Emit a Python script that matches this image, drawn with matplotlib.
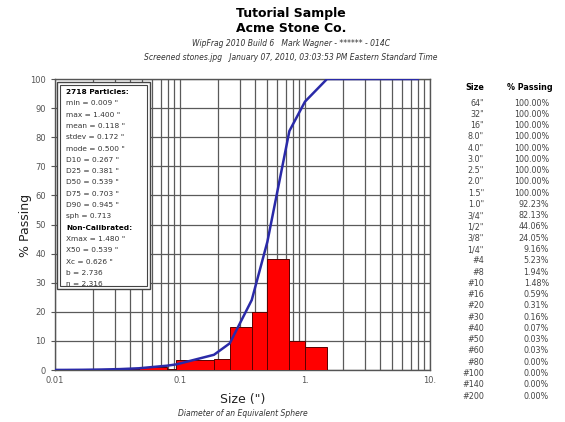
import numpy as np
import matplotlib.pyplot as plt
from matplotlib.patches import Rectangle

# sieve table (right side of chart)
sieve_labels = ['64"', '32"', '16"', '8.0"', '4.0"', '3.0"', '2.5"', '2.0"', '1.5"', '1.0"',
                '3/4"', '1/2"', '3/8"', '1/4"', '#4', '#8', '#10', '#16', '#20', '#30',
                '#40', '#50', '#60', '#80', '#100', '#140', '#200']
sieve_in = [64, 32, 16, 8, 4, 3, 2.5, 2, 1.5, 1.0, 0.75, 0.5, 0.375, 0.25, 0.187, 0.0937,
            0.0787, 0.0469, 0.0331, 0.0234, 0.0165, 0.0117, 0.0098, 0.0070, 0.0059, 0.0041, 0.0029]
passing = [100.00, 100.00, 100.00, 100.00, 100.00, 100.00, 100.00, 100.00, 100.00, 92.23,
           82.13, 44.06, 24.05, 9.16, 5.23, 1.94, 1.48, 0.59, 0.31, 0.16,
           0.07, 0.03, 0.03, 0.00, 0.00, 0.00, 0.00]

# histogram bars (% retained between sieves)
bar_lo = [0.0331, 0.0469, 0.0787, 0.0937, 0.187, 0.25, 0.375, 0.5, 0.75, 1.0]
bar_hi = [0.0469, 0.0787, 0.0937, 0.187, 0.25, 0.375, 0.5, 0.75, 1.0, 1.5]
bar_pct = [0.28, 0.89, 0.46, 3.29, 3.93, 14.89, 20.01, 38.07, 10.10, 7.77]

stats = ["min = 0.009 \"", "max = 1.400 \"", "mean = 0.118 \"", "stdev = 0.172 \"",
         "mode = 0.500 \"", "D10 = 0.267 \"", "D25 = 0.381 \"", "D50 = 0.539 \"",
         "D75 = 0.703 \"", "D90 = 0.945 \"", "sph = 0.713"]
stats2 = ["Xmax = 1.480 \"", "X50 = 0.539 \"", "Xc = 0.626 \"", "b = 2.736", "n = 2.316"]

fig = plt.figure(figsize=(5.65, 4.22), dpi=100)
ax = fig.add_axes([55 / 565, 52 / 422, 375 / 565, 291 / 422])

widths = np.array(bar_hi) - np.array(bar_lo)
ax.bar(bar_lo, bar_pct, width=widths, align="edge",
       color="#ff0000", edgecolor="#5a0000", linewidth=0.7, zorder=3)

curve_x = [s for s in sieve_in if s <= 8]
curve_y = [p for s, p in zip(sieve_in, passing) if s <= 8]
ax.plot(curve_x, curve_y, color="#2a2aa8", lw=1.8, zorder=4, clip_on=True)

ax.set_xscale("log")
ax.set_xlim(0.01, 10)
ax.set_ylim(0, 100)
ax.set_yticks(range(0, 101, 10))
ax.set_xticks([0.01, 0.1, 1, 10])
ax.set_xticklabels(["0.01", "0.1", "1.", "10."])
ax.tick_params(axis="both", labelsize=6, labelcolor="#555555", length=3, color="#555555")
ax.tick_params(axis="x", which="both", length=0, pad=4)
ax.grid(True, which="both", axis="x", color="#5a5a5a", lw=0.9)
ax.grid(True, which="major", axis="y", color="#5a5a5a", lw=0.9)
ax.set_axisbelow(True)
for sp in ax.spines.values():
    sp.set_color("#555555")
    sp.set_linewidth(1.0)

# stats box
ax.add_patch(Rectangle((0.005, 0.28), 0.248, 0.71, transform=ax.transAxes,
                       facecolor="white", edgecolor="#444444", lw=1.0, zorder=5))
ax.add_patch(Rectangle((0.014, 0.29), 0.230, 0.69, transform=ax.transAxes,
                       facecolor="none", edgecolor="#444444", lw=0.8, zorder=6))
y0 = 0.955
dy = 11.3 / 291
ax.text(0.03, y0, "2718 Particles:", transform=ax.transAxes, fontsize=5.3,
        fontweight="bold", va="center", zorder=7)
for i, s in enumerate(stats):
    ax.text(0.03, y0 - (i + 1) * dy, s, transform=ax.transAxes, fontsize=5.3,
            va="center", color="#333333", zorder=7)
k = len(stats) + 1
ax.text(0.03, y0 - k * dy, "Non-Calibrated:", transform=ax.transAxes, fontsize=5.3,
        fontweight="bold", va="center", zorder=7)
for i, s in enumerate(stats2):
    ax.text(0.03, y0 - (k + i + 1) * dy, s, transform=ax.transAxes, fontsize=5.3,
            va="center", color="#333333", zorder=7)

# titles
fig.text(0.515, 1 - 13 / 422, "Tutorial Sample", ha="center", va="center",
         fontsize=9, fontweight="bold")
fig.text(0.515, 1 - 28 / 422, "Acme Stone Co.", ha="center", va="center",
         fontsize=9, fontweight="bold")
fig.text(0.515, 1 - 44 / 422, "WipFrag 2010 Build 6   Mark Wagner - ****** - 014C",
         ha="center", va="center", fontsize=5.5, style="italic", color="#333333")
fig.text(0.515, 1 - 57 / 422,
         "Screened stones.jpg   January 07, 2010, 03:03:53 PM Eastern Standard Time",
         ha="center", va="center", fontsize=5.5, style="italic", color="#333333")

fig.text(25 / 565, 1 - 225 / 422, "% Passing", rotation=90, ha="center", va="center",
         fontsize=9, color="#222222")
fig.text(243 / 565, 1 - 399 / 422, "Size (\")", ha="center", va="center",
         fontsize=9, color="#222222")
fig.text(243 / 565, 1 - 413 / 422, "Diameter of an Equivalent Sphere", ha="center",
         va="center", fontsize=5.5, style="italic", color="#333333")

# sieve table
fig.text(475 / 565, 1 - 88 / 422, "Size", ha="center", va="center", fontsize=5.8,
         fontweight="bold")
fig.text(530 / 565, 1 - 88 / 422, "% Passing", ha="center", va="center", fontsize=5.8,
         fontweight="bold")
row_h = 11.27
for i, (lab, p) in enumerate(zip(sieve_labels, passing)):
    yy = 1 - (103 + i * row_h) / 422
    fig.text(484 / 565, yy, lab, ha="right", va="center", fontsize=5.8, color="#444444")
    fig.text(549 / 565, yy, f"{p:.2f}%", ha="right", va="center", fontsize=5.8,
             color="#444444")

fig.savefig("out.png", dpi=100, facecolor="white")
